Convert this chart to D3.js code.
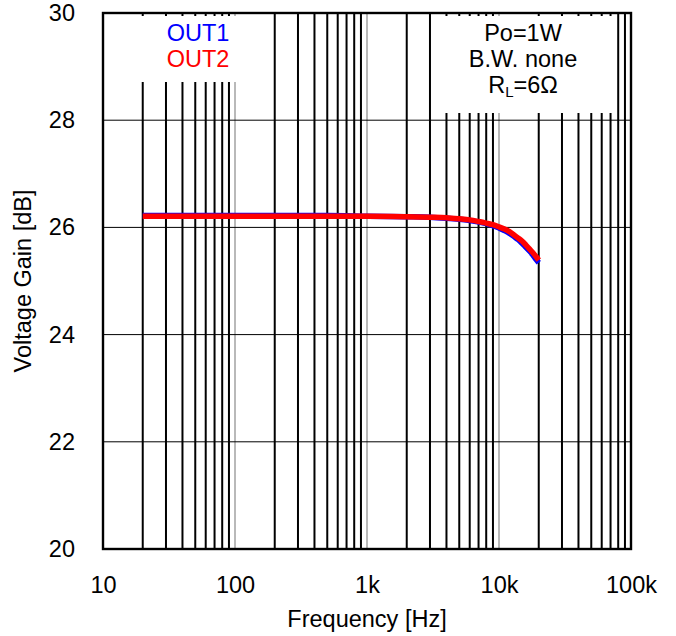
<!DOCTYPE html>
<html>
<head>
<meta charset="utf-8">
<script src="https://cdn.jsdelivr.net/npm/d3@7/dist/d3.min.js"></script>
<style>
  html, body { margin: 0; padding: 0; background: #fff; }
  svg { display: block; }
  text { font-family: "Liberation Sans", Arial, sans-serif; fill: #000; }
</style>
</head>
<body>
<svg id="chart" width="676" height="636"></svg>
<script>
// ---- data ----
const freqs = [20, 50, 100, 200, 500, 1000, 2000, 3000, 4000, 5000, 6000, 7000, 8000, 9000, 10000,
               11000, 12000, 13000, 14000, 15000, 16000, 17000, 18000, 19000, 20000];
const out1 = [26.22, 26.22, 26.22, 26.22, 26.22, 26.21, 26.20, 26.19, 26.17, 26.15, 26.13, 26.10, 26.07, 26.03, 25.99,
              25.94, 25.89, 25.83, 25.77, 25.70, 25.63, 25.56, 25.49, 25.41, 25.34];
const out2 = [26.21, 26.21, 26.21, 26.21, 26.21, 26.21, 26.20, 26.19, 26.18, 26.16, 26.14, 26.11, 26.08, 26.05, 26.01,
              25.97, 25.92, 25.86, 25.80, 25.74, 25.67, 25.60, 25.53, 25.46, 25.39];
const xTickValues = [10, 100, 1000, 10000, 100000];
const xTickLabels = ["10", "100", "1k", "10k", "100k"];
const yTickValues = [20, 22, 24, 26, 28, 30];
const seriesNames = ["OUT1", "OUT2"];
const seriesColors = ["#0000ff", "#ff0000"];
const infoLines = ["Po=1W", "B.W. none"];

// ---- layout ----
const svg = d3.select("#chart");
const L = 103, R = 631, T = 13, B = 549;
const x = d3.scaleLog().domain([10, 100000]).range([L, R]);
const y = d3.scaleLinear().domain([20, 30]).range([B, T]);
const FS = 23.5;

// grid values
const minor = [], major = [];
for (let d = 10; d < 100000; d *= 10) {
  for (let m = 2; m <= 9; m++) minor.push(d * m);
  if (d > 10) major.push(d);
}

const grid = svg.append("g");
grid.selectAll("line.minor").data(minor).join("line")
  .attr("x1", d => x(d)).attr("x2", d => x(d))
  .attr("y1", T).attr("y2", B)
  .attr("stroke", "#000").attr("stroke-width", 2);
grid.selectAll("line.major").data(major).join("line")
  .attr("x1", d => x(d)).attr("x2", d => x(d))
  .attr("y1", T).attr("y2", B)
  .attr("stroke", "#8a8a8a").attr("stroke-width", 1.2);
grid.selectAll("line.h").data(yTickValues.filter(v => v > 20 && v < 30)).join("line")
  .attr("x1", L).attr("x2", R)
  .attr("y1", d => y(d)).attr("y2", d => y(d))
  .attr("stroke", "#000").attr("stroke-width", 1);

// legend / info boxes (white, cover grid)
svg.append("rect").attr("x", 128).attr("y", 16).attr("width", 138).attr("height", 66).attr("fill", "#fff");
svg.append("rect").attr("x", 435).attr("y", 16).attr("width", 178).attr("height", 97).attr("fill", "#fff");

// curves
const line = d3.line().curve(d3.curveMonotoneX)
  .x(d => x(d[0])).y(d => y(d[1]));
[out1, out2].forEach((vals, i) => {
  svg.append("path")
    .datum(freqs.map((f, j) => [f, vals[j]]))
    .attr("d", line)
    .attr("fill", "none")
    .attr("stroke", seriesColors[i])
    .attr("stroke-width", 5.5);
});

// frame
svg.append("rect").attr("x", L).attr("y", T).attr("width", R - L).attr("height", B - T)
  .attr("fill", "none").attr("stroke", "#000").attr("stroke-width", 2.4);

// axes
const xAxis = d3.axisBottom(x).tickValues(xTickValues)
  .tickFormat((d, i) => xTickLabels[i]).tickSize(0).tickPadding(27);
const gx = svg.append("g").attr("transform", `translate(0,${B})`).call(xAxis);
gx.select(".domain").remove();
gx.selectAll("text").attr("font-size", FS).attr("font-family", "Liberation Sans, Arial, sans-serif").attr("fill", "#000");

const yAxis = d3.axisLeft(y).tickValues(yTickValues).tickFormat(d3.format("d")).tickSize(0).tickPadding(28);
const gy = svg.append("g").attr("transform", `translate(${L},0)`).call(yAxis);
gy.select(".domain").remove();
gy.selectAll("text").attr("font-size", FS).attr("font-family", "Liberation Sans, Arial, sans-serif").attr("fill", "#000");

// axis titles
svg.append("text").attr("x", (L + R) / 2).attr("y", 627)
  .attr("text-anchor", "middle").attr("font-size", FS).text("Frequency [Hz]");
svg.append("text").attr("transform", `translate(31,${(T + B) / 2}) rotate(-90)`)
  .attr("text-anchor", "middle").attr("font-size", FS).text("Voltage Gain [dB]");

// legend text
seriesNames.forEach((n, i) => {
  svg.append("text").attr("x", 198).attr("y", 41 + i * 26)
    .attr("text-anchor", "middle").attr("font-size", FS)
    .style("fill", seriesColors[i]).text(n);
});

// info text
infoLines.forEach((t, i) => {
  svg.append("text").attr("x", 523).attr("y", 41 + i * 26)
    .attr("text-anchor", "middle").attr("font-size", FS).text(t);
});
const rl = svg.append("text").attr("x", 523).attr("y", 93)
  .attr("text-anchor", "middle").attr("font-size", FS);
rl.append("tspan").text("R");
rl.append("tspan").attr("font-size", 15).attr("dy", 4).text("L");
rl.append("tspan").attr("dy", -4).text("=6Ω");
</script>
</body>
</html>
